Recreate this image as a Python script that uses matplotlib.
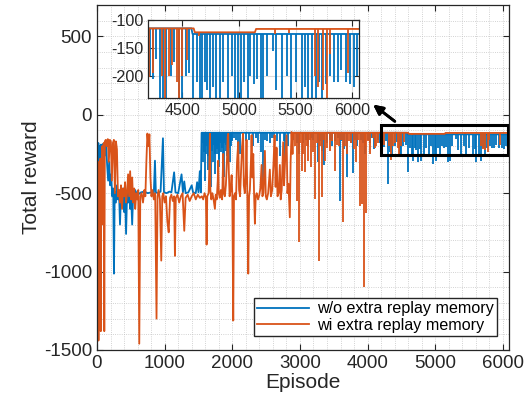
import numpy as np
import matplotlib.pyplot as plt
from matplotlib.patches import Rectangle
from matplotlib.ticker import MultipleLocator

plt.rcParams['font.family'] = ['Liberation Sans', 'DejaVu Sans']
plt.rcParams['axes.unicode_minus'] = False

BLUE = "#0072BD"
ORANGE = "#D95319"
GREY = "#262626"

# ---- w/o extra replay memory: body vertices (episode, reward) ----
blue_ep = [0, 10, 20, 30, 40, 50, 60, 75, 90, 105, 120, 135, 150, 165, 180, 195, 210,
           225, 240, 251, 262, 280, 295, 310, 325, 340, 355, 370, 385, 400, 415, 430,
           445, 460, 475, 490, 505, 520, 535, 550, 565, 580, 600, 620, 650, 700, 750,
           800, 840, 857, 870, 900, 940, 975, 990, 1030, 1070, 1100, 1140, 1160, 1200,
           1250, 1270, 1290, 1310, 1350, 1400, 1420, 1460, 1480, 1500, 1520, 1535, 1546,
           4580, 4590, 6070]
blue_val = [-180, -330, -180, -250, -200, -340, -190, -230, -185, -210, -260, -190, -320,
            -420, -300, -450, -380, -520, -470, -1013, -490, -560, -450, -540, -480, -700,
            -500, -560, -470, -620, -520, -760, -500, -560, -480, -600, -520, -700, -500,
            -540, -480, -510, -490, -505, -495, -490, -500, -495, -500, -293, -495, -500,
            -490, -150, -495, -500, -490, -495, -367, -495, -500, -380, -495, -425, -500,
            -495, -450, -495, -500, -430, -495, -360, -495, -115,
            -115, -125, -125]

# downward spikes from the top plateau (-115 before ep 4580, -125 after)
blue_dip_hi_ep = [1560, 1568, 1575, 1583, 1590, 1600, 1608, 1615, 1622, 1630, 1638, 1645,
                  1652, 1660, 1668, 1675, 1683, 1690, 1698, 1705, 1712, 1720, 1728, 1735,
                  1742, 1750, 1758, 1765, 1772, 1780, 1788, 1795, 1802, 1810, 1818, 1825,
                  1832, 1840, 1850, 1860, 1870, 1880, 1890, 1900, 1910, 1920, 1930, 1940,
                  1950, 1960, 1970, 1980, 1990, 2000, 2025, 2050, 2085, 2120, 2160, 2200,
                  2250, 2300, 2350, 2385, 2420, 2450, 2480, 2515, 2550, 2585, 2620, 2660,
                  2700, 2760, 2780, 2830, 2900, 2950, 2990, 3050, 3085, 3120, 3160, 3200,
                  3260, 3300, 3330, 3360, 3400, 3440, 3470, 3520, 3555, 3590, 3620, 3650,
                  3700, 3750, 3790, 3820, 3850, 3900, 3930, 3960, 4000, 4030, 4065, 4100,
                  4150, 4180, 4215, 4240, 4270, 4300, 4330, 4360, 4400, 4430, 4473, 4500,
                  4530, 4560]
blue_dip_hi_val = [-300, -180, -160, -240, -200, -420, -170, -250, -200, -180, -260, -350,
                   -190, -150, -280, -220, -170, -460, -230, -200, -160, -300, -190, -160,
                   -250, -380, -200, -170, -220, -250, -160, -200, -280, -330, -180, -150,
                   -240, -170, -210, -270, -180, -400, -160, -190, -230, -260, -170, -160,
                   -210, -300, -180, -200, -160, -170, -150, -160, -180, -250, -150, -170,
                   -160, -200, -150, -180, -240, -463, -160, -170, -180, -150, -150, -170,
                   -260, -170, -300, -200, -160, -180, -250, -180, -160, -200, -150, -160,
                   -300, -170, -230, -320, -180, -160, -200, -170, -150, -548, -170, -220,
                   -400, -180, -370, -160, -200, -160, -180, -250, -160, -180, -150, -220,
                   -160, -180, -200, -205, -170, -440, -240, -250, -200, -175, -250, -272,
                   -200, -195]
blue_dip_lo_ep = [4598, 4630, 4656, 4672, 4700, 4720, 4746, 4770, 4795, 4832, 4860, 4906,
                  4940, 4968, 4990, 5017, 5045, 5075, 5100, 5130, 5160, 5190, 5214, 5250,
                  5302, 5330, 5376, 5420, 5461, 5500, 5553, 5580, 5608, 5641, 5682, 5705,
                  5731, 5770, 5802, 5840, 5870, 5900, 5940, 5979, 6010, 6040]
blue_dip_lo_val = [-367, -210, -250, -293, -210, -225, -304, -220, -293, -250, -210, -250,
                   -200, -315, -250, -293, -210, -260, -200, -215, -205, -304, -293, -200,
                   -155, -225, -260, -200, -272, -210, -250, -220, -304, -250, -293, -210,
                   -272, -215, -200, -210, -210, -190, -210, -215, -220, -200]

# ---- wi extra replay memory: body vertices ----
orange_ep = [0, 8, 14, 22, 30, 40, 48, 56, 64, 72, 80, 90, 100, 108, 116, 130, 145, 160,
             175, 190, 205, 220, 235, 250, 265, 280, 295, 310, 325, 340, 355, 370, 385,
             400, 415, 430, 445, 460, 475, 490, 505, 520, 535, 550, 565, 580, 595, 610,
             625, 640, 660, 680, 700, 715, 730, 745, 760, 775, 790, 805, 820, 840, 860,
             880, 895, 910, 930, 950, 965, 980, 1000, 1020, 1040, 1060, 1080, 1100, 1120,
             1140, 1152, 1165, 1190, 1215, 1240, 1265, 1290, 1310, 1340, 1370, 1400, 1430,
             1460, 1490, 1520, 1550, 1570, 1590, 1610, 1620, 1630, 1650, 1662, 1669, 1676,
             1690, 1705, 1720, 1743, 1755, 1770, 1785, 1792, 1800, 1815, 1830, 1850, 1866,
             1875, 1890, 1905, 1920, 1932, 1940, 1948, 1960, 1975, 1990, 2000, 2014, 2025,
             2040, 2055, 2070, 2088, 2100, 2115, 2130, 2145, 2160, 2170, 2185, 2200, 2210,
             2222, 2236, 2248, 2260, 2275, 2285, 2297, 2310, 2322, 2334, 2346, 2360, 2380,
             2400, 2415, 2433, 2445, 2460, 2482, 2495, 2510, 2530, 2555, 2570, 2590, 2610,
             2625, 2640, 2654, 2668, 2685, 2703, 2715, 2730, 2752, 2765, 2780, 2802, 2815,
             2830, 2850, 2862, 2876, 2890, 2900, 4600, 4610, 5140, 5150, 6070]
orange_val = [-290, -900, -300, -1440, -400, -1100, -280, -1380, -350, -700, -200, -500,
              -180, -1380, -170, -160, -200, -155, -300, -160, -170, -420, -180, -160, -500,
              -170, -220, -520, -480, -560, -450, -600, -470, -520, -430, -560, -500, -380,
              -520, -360, -540, -400, -560, -470, -600, -500, -540, -480, -1460, -520, -500,
              -560, -480, -520, -300, -120, -200, -125, -400, -520, -480, -540, -500, -1300,
              -520, -480, -540, -930, -520, -500, -560, -520, -680, -750, -530, -510, -550,
              -520, -900, -530, -510, -560, -520, -500, -740, -530, -510, -550, -520, -500,
              -540, -510, -530, -520, -540, -500, -530, -828, -520, -500, -300, -121, -480,
              -540, -500, -530, -600, -510, -540, -420, -293, -500, -530, -480, -540, -250,
              -500, -520, -450, -300, -140, -121, -350, -520, -480, -385, -510, -1312, -520,
              -500, -540, -300, -174, -480, -520, -350, -200, -121, -450, -500, -380, -160,
              -500, -1013, -520, -480, -300, -130, -400, -250, -510, -695, -520, -500, -540,
              -510, -470, -320, -520, -500, -230, -520, -540, -500, -350, -520, -480, -300,
              -130, -460, -210, -520, -500, -320, -540, -480, -175, -450, -300, -130, -500,
              -440, -654, -300, -110, -250, -115, -115, -122, -122, -116, -116]

# downward spikes from the orange plateaus (-115 / -122 / -116)
orange_dip_a_ep = [2930, 2950, 2984, 3000, 3023, 3045, 3072, 3100, 3121, 3145, 3170, 3195,
                   3220, 3250, 3279, 3300, 3328, 3350, 3370, 3400, 3441, 3480, 3520, 3550,
                   3580, 3610, 3638, 3670, 3700, 3730, 3760, 3800, 3830, 3860, 3885, 3910,
                   3944, 3960, 3983, 4010, 4040, 4080, 4106, 4130, 4160, 4210, 4240, 4323,
                   4347, 4380, 4410, 4450, 4470, 4500, 4538]
orange_dip_a_val = [-200, -548, -813, -180, -357, -250, -367, -200, -293, -160, -330, -240,
                    -537, -180, -930, -200, -527, -160, -293, -210, -230, -170, -357, -190,
                    -200, -160, -686, -200, -250, -170, -180, -220, -300, -160, -580, -570,
                    -1100, -200, -625, -170, -250, -150, -210, -200, -180, -201, -195, -200,
                    -290, -200, -180, -210, -260, -200, -171]
orange_dip_b_ep = [4650]
orange_dip_b_val = [-128]
orange_dip_c_ep = [5320, 5440, 5670, 5700, 5738, 5776, 5800, 5958]
orange_dip_c_val = [-125, -124, -200, -219, -225, -240, -160, -195]

LW = 1.3


def draw(ax, lw):
    ax.plot(blue_ep, blue_val, color=BLUE, lw=lw, label="w/o extra replay memory")
    ax.vlines(blue_dip_hi_ep, blue_dip_hi_val, -115, color=BLUE, lw=lw)
    ax.vlines(blue_dip_lo_ep, blue_dip_lo_val, -125, color=BLUE, lw=lw)
    ax.plot(orange_ep, orange_val, color=ORANGE, lw=lw, label="wi extra replay memory")
    ax.vlines(orange_dip_a_ep, orange_dip_a_val, -115, color=ORANGE, lw=lw)
    ax.vlines(orange_dip_b_ep, orange_dip_b_val, -122, color=ORANGE, lw=lw)
    ax.vlines(orange_dip_c_ep, orange_dip_c_val, -116, color=ORANGE, lw=lw)


def style(ax, fs):
    for s in ax.spines.values():
        s.set_color(GREY)
        s.set_linewidth(0.9)
    ax.tick_params(which="major", direction="in", length=4, top=True, right=True,
                   colors=GREY, labelsize=fs, labelcolor=GREY)
    ax.tick_params(which="minor", length=0, top=True, right=True)


fig = plt.figure(figsize=(5.32, 4.08), dpi=100)
ax = fig.add_axes([0.1823, 0.1422, 0.7745, 0.8456])
draw(ax, LW)
ax.set_xlim(0, 6090)
ax.set_ylim(-1500, 700)
ax.set_xticks([0, 1000, 2000, 3000, 4000, 5000, 6000])
ax.set_yticks([-1500, -1000, -500, 0, 500])
ax.xaxis.set_minor_locator(MultipleLocator(200))
ax.yaxis.set_minor_locator(MultipleLocator(100))
ax.grid(which="both", linestyle=":", color="#c4c4c4", linewidth=0.6)
ax.set_axisbelow(True)
style(ax, 13.5)
ax.set_xlabel("Episode", fontsize=15, color=GREY, labelpad=1)
ax.set_ylabel("Total reward", fontsize=15, color=GREY, labelpad=2)
ax.legend(loc="lower right", bbox_to_anchor=(0.97, 0.04), fontsize=11.6, frameon=True,
          fancybox=False, edgecolor=GREY, framealpha=1, handlelength=3.2,
          borderpad=0.2, labelspacing=0.1, handletextpad=0.5, borderaxespad=0)

ax.add_patch(Rectangle((4200, -255), 1870, 190, fill=False, edgecolor="black",
                       lw=2.2, zorder=5))

# inset zoom
axin = fig.add_axes([0.2788, 0.759, 0.396, 0.192])
draw(axin, LW)
axin.set_xlim(4200, 6058)
axin.set_ylim(-240, -100)
axin.set_xticks([4500, 5000, 5500, 6000])
axin.set_yticks([-200, -150, -100])
axin.grid(True, color="#dcdcdc", linewidth=0.8)
axin.set_axisbelow(True)
style(axin, 11.6)

fig.add_artist(plt.annotate("", xy=(371 / 532, 1 - 103 / 408), xycoords="figure fraction",
                            xytext=(397 / 532, 1 - 123 / 408), textcoords="figure fraction",
                            arrowprops=dict(arrowstyle="-|>", color="black", lw=2,
                                            mutation_scale=14)))

fig.savefig("out.png", dpi=100)
